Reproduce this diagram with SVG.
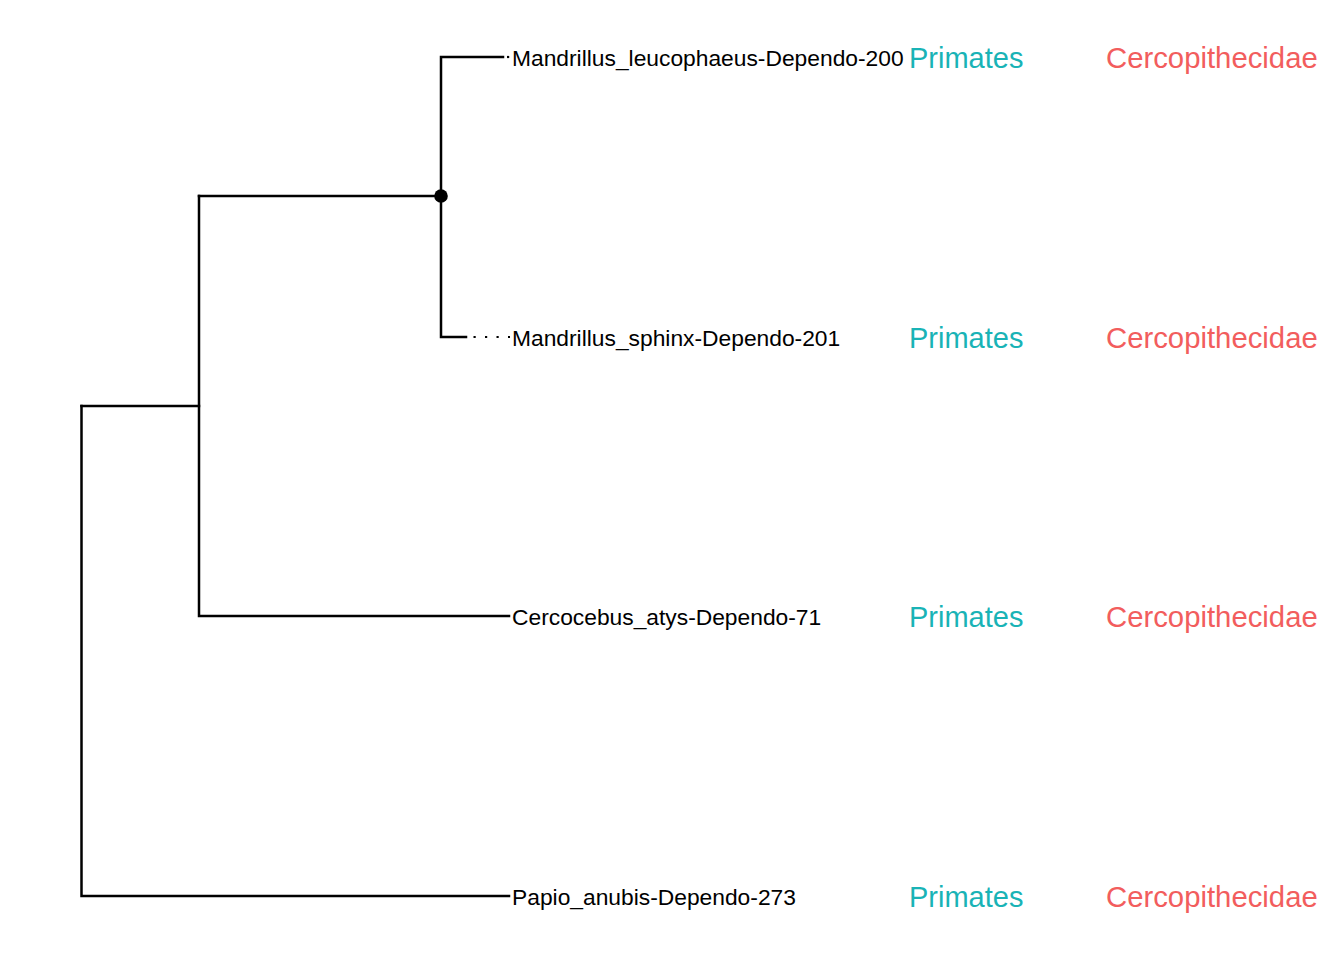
<svg xmlns="http://www.w3.org/2000/svg" width="1344" height="960" viewBox="0 0 1344 960">
  <style>
    .edge { fill: none; stroke: #000; stroke-width: 2.5; stroke-linecap: square; }
    .guide { fill: none; stroke: #000; stroke-width: 2.2; stroke-dasharray: 2.2 9.3; }
    .tip { font-family: "Liberation Sans", Arial, sans-serif; font-size: 22.8px; fill: #000; }
    .order { font-family: "Liberation Sans", Arial, sans-serif; font-size: 29px; fill: #19B3B6; }
    .family { font-family: "Liberation Sans", Arial, sans-serif; font-size: 29.3px; fill: #F25D5D; }
  </style>
  <rect width="1344" height="960" fill="#fff"/>

  <!-- tree edges -->
  <g id="connectors">
    <path class="edge" d="M81.5,406 V896 H509"/>
    <path class="edge" d="M81.5,406 H199"/>
    <path class="edge" d="M199,196 V616 H509"/>
    <path class="edge" d="M199,196 H441"/>
    <path class="edge" d="M441,196 V57 H503"/>
    <path class="edge" d="M441,196 V337 H466"/>
    <!-- dotted guides from branch tips to labels -->
    <path class="guide" d="M507,57 H510"/>
    <path class="guide" d="M473.5,337 H510"/>
  </g>

  <g id="node-mandrillus">
    <circle cx="441" cy="196" r="6.8" fill="#000"/>
  </g>

  <g id="tip-mandrillus-leucophaeus">
    <text class="tip" x="512" y="65.5">Mandrillus_leucophaeus-Dependo-200</text>
    <text class="order" x="909" y="67.5">Primates</text>
    <text class="family" x="1106" y="67.5">Cercopithecidae</text>
  </g>
  <g id="tip-mandrillus-sphinx">
    <text class="tip" x="512" y="345.5">Mandrillus_sphinx-Dependo-201</text>
    <text class="order" x="909" y="347.5">Primates</text>
    <text class="family" x="1106" y="347.5">Cercopithecidae</text>
  </g>
  <g id="tip-cercocebus-atys">
    <text class="tip" x="512" y="624.5">Cercocebus_atys-Dependo-71</text>
    <text class="order" x="909" y="626.5">Primates</text>
    <text class="family" x="1106" y="626.5">Cercopithecidae</text>
  </g>
  <g id="tip-papio-anubis">
    <text class="tip" x="512" y="904.5">Papio_anubis-Dependo-273</text>
    <text class="order" x="909" y="906.5">Primates</text>
    <text class="family" x="1106" y="906.5">Cercopithecidae</text>
  </g>
</svg>
